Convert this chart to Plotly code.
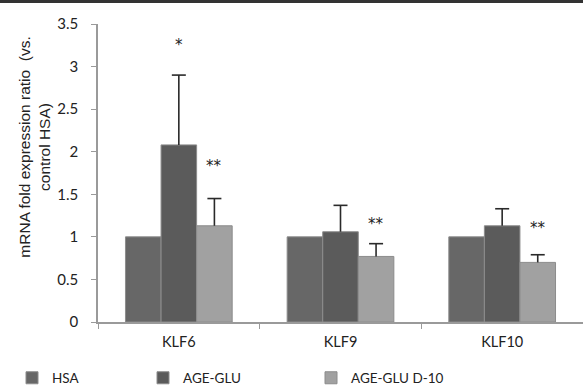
import plotly.graph_objects as go

categories = ["KLF6", "KLF9", "KLF10"]
series_names = ["HSA", "AGE-GLU", "AGE-GLU D-10"]
hsa = [1.0, 1.0, 1.0]
age_glu = [2.08, 1.06, 1.13]
age_glu_d10 = [1.13, 0.77, 0.70]
err_hsa = [0, 0, 0]
err_age_glu = [0.82, 0.31, 0.20]
err_age_glu_d10 = [0.32, 0.15, 0.09]
colors = ["#676767", "#5b5b5b", "#a1a1a1"]

# significance marks: (category, series index, label, y position)
sig_cat = ["KLF6", "KLF6", "KLF9", "KLF10"]
sig_series = [1, 2, 2, 2]
sig_text = ["*", "**", "**", "**"]
sig_y = [3.25, 1.83, 1.15, 1.10]

y_ticks = [0, 0.5, 1, 1.5, 2, 2.5, 3, 3.5]
y_tick_text = ["0", "0.5", "1", "1.5", "2", "2.5", "3", "3.5"]

W, H = 583, 392
ML, MR, MT, MB = 98, 0, 24, 70
plot_w = W - ML - MR
plot_h = H - MT - MB
bargap = 0.34
bar_w_px = plot_w / len(categories) * (1 - bargap) / 3

fig = go.Figure()
values = [hsa, age_glu, age_glu_d10]
errs = [err_hsa, err_age_glu, err_age_glu_d10]
legend_ids = ["legend", "legend2", "legend3"]
groups = ["g0", "g1", "g2"]
for i, name in enumerate(series_names):
    has_err = any(e > 0 for e in errs[i])
    fig.add_trace(go.Bar(
        x=categories, y=values[i], name=name,
        offsetgroup=groups[i],
        marker=dict(color=colors[i], line=dict(color="#8c8c8c", width=1)),
        error_y=dict(type="data", symmetric=False, array=errs[i],
                     arrayminus=[0] * len(categories),
                     visible=has_err, color="#2a2a2a", thickness=1.6, width=0),
        legend=legend_ids[i],
    ))

# caps on top of the one-sided error bars
for i, name in enumerate(series_names):
    has_err = any(e > 0 for e in errs[i])
    tops = [v + e for v, e in zip(values[i], errs[i])]
    fig.add_trace(go.Scatter(
        x=categories, y=tops, mode="markers", offsetgroup=groups[i],
        marker=dict(symbol="line-ew", size=10,
                    color="rgba(0,0,0,0)",
                    line=dict(color="#2a2a2a" if has_err else "rgba(0,0,0,0)", width=1.6)),
        showlegend=False, hoverinfo="skip",
    ))

annotations = []
for c, s, t, yv in zip(sig_cat, sig_series, sig_text, sig_y):
    annotations.append(dict(
        x=c, y=yv, xref="x", yref="y", text=t, showarrow=False,
        xshift=(s - 1) * bar_w_px,
        font=dict(family="DejaVu Sans, sans-serif", size=15, color="#222222"),
    ))

annotations.append(dict(
    xref="paper", yref="paper", x=(35 - ML) / plot_w, y=0.585,
    text="mRNA fold expression ratio  (vs.<br>control HSA)",
    showarrow=False, textangle=-90, xanchor="center", yanchor="middle",
    font=dict(family="Liberation Sans, Arial, sans-serif", size=15.5, color="#222"),
))

leg_font = dict(family="Lato, sans-serif", size=13.5, color="#222")
ly = (H - MB - 378) / plot_h
fig.update_layout(
    width=W, height=H,
    margin=dict(l=ML, r=MR, t=MT, b=MB, autoexpand=False),
    paper_bgcolor="white", plot_bgcolor="white",
    barmode="group", bargap=bargap, bargroupgap=0,
    scattermode="group", scattergap=bargap,
    showlegend=True,
    legend=dict(x=(12 - ML) / plot_w, y=ly, yanchor="middle", xanchor="left",
                orientation="h", font=leg_font, bgcolor="rgba(0,0,0,0)"),
    legend2=dict(x=(143 - ML) / plot_w, y=ly, yanchor="middle", xanchor="left",
                 orientation="h", font=leg_font, bgcolor="rgba(0,0,0,0)"),
    legend3=dict(x=(311 - ML) / plot_w, y=ly, yanchor="middle", xanchor="left",
                 orientation="h", font=leg_font, bgcolor="rgba(0,0,0,0)"),
    xaxis=dict(
        showline=True, linecolor="#9a9a9a", linewidth=1.5,
        ticks="outside", tickson="boundaries", ticklen=5, tickcolor="#9a9a9a",
        tickfont=dict(family="Lato, sans-serif", size=14.5, color="#222"),
        showgrid=False, ticklabelstandoff=6,
    ),
    yaxis=dict(
        range=[0, 3.5], tickvals=y_ticks, ticktext=y_tick_text,
        showline=True, linecolor="#9a9a9a", linewidth=1.5,
        ticks="outside", ticklen=5, tickcolor="#9a9a9a",
        tickfont=dict(family="Lato, sans-serif", size=15, color="#222"),
        showgrid=False, zeroline=False, ticklabelstandoff=10,
    ),
    annotations=annotations,
    shapes=[dict(type="line", xref="paper", yref="paper", layer="above",
                 x0=-ML / plot_w, x1=1, y0=(H - MB - 1.5) / plot_h, y1=(H - MB - 1.5) / plot_h,
                 line=dict(color="#333", width=3))],
)

fig.write_html("out.html", config={"displayModeBar": False},
               post_script="document.body.style.margin='0';document.body.style.overflow='hidden';")
